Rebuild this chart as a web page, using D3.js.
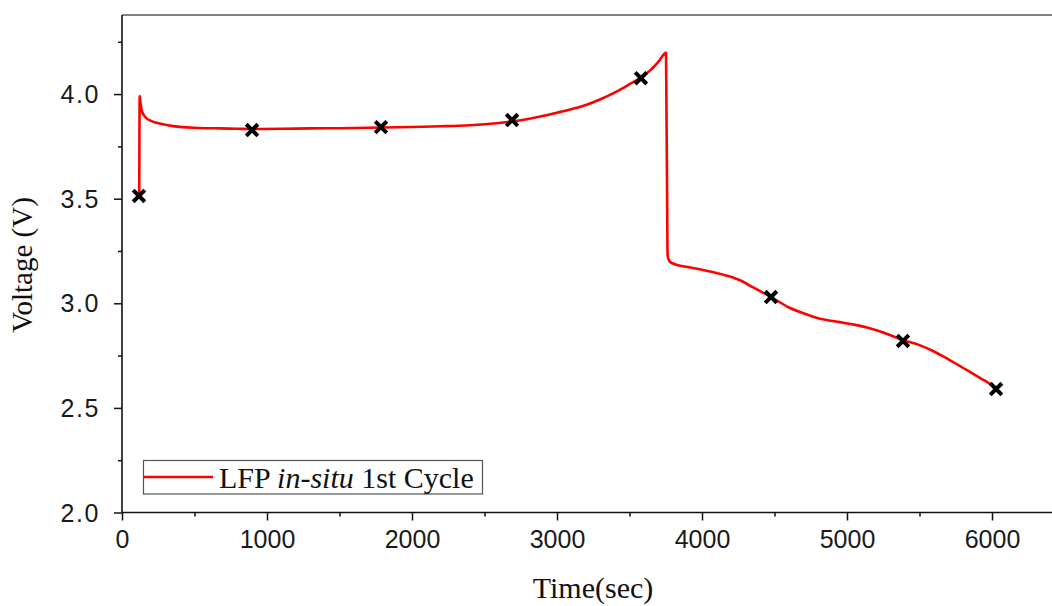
<!DOCTYPE html>
<html>
<head>
<meta charset="utf-8">
<script src="https://cdn.jsdelivr.net/npm/d3@7/dist/d3.min.js"></script>
<style>
  html, body { margin: 0; padding: 0; background: #fff; }
  svg { display: block; }
</style>
</head>
<body>
<svg id="chart" width="1052" height="606"></svg>
<script>
// ---- data ----
const timeSec = [119, 122, 128, 136, 150, 170, 200, 239, 300, 352, 420, 490, 580, 676, 800, 900,
  1100, 1300, 1500, 1800, 2000, 2200, 2400, 2600, 2700, 2800, 2900, 3000, 3100, 3200, 3300, 3400,
  3500, 3580, 3650, 3700, 3752, 3762, 3766, 3780, 3800, 3828, 3900, 4000, 4100, 4193, 4262, 4350,
  4476, 4600, 4700, 4766, 4850, 4952, 5050, 5138, 5250, 5386, 5500, 5593, 5700, 5828, 5950, 6034];
const voltage = [3.517, 3.99, 3.955, 3.923, 3.900, 3.884, 3.872, 3.863, 3.853, 3.847, 3.842, 3.839,
  3.837, 3.836, 3.834, 3.833, 3.834, 3.836, 3.837, 3.840, 3.843, 3.846, 3.851, 3.862, 3.870, 3.881,
  3.895, 3.911, 3.928, 3.948, 3.975, 4.008, 4.047, 4.080, 4.118, 4.155, 4.197, 3.254, 3.217, 3.198,
  3.190, 3.183, 3.173, 3.160, 3.145, 3.128, 3.110, 3.077, 3.030, 2.980, 2.952, 2.936, 2.921, 2.910,
  2.898, 2.884, 2.860, 2.824, 2.800, 2.772, 2.732, 2.680, 2.630, 2.594];

const markerTime = [117, 897, 1786, 2690, 3579, 4476, 5386, 6028];
const markerVoltage = [3.513, 3.828, 3.842, 3.876, 4.076, 3.030, 2.820, 2.590];

const xMajorTicks = [0, 1000, 2000, 3000, 4000, 5000, 6000];
const xMinorTicks = [500, 1500, 2500, 3500, 4500, 5500];
const yMajorTicks = [2.0, 2.5, 3.0, 3.5, 4.0];
const yMinorTicks = [2.25, 2.75, 3.25, 3.75, 4.25];

const seriesName = ["LFP ", "in-situ", " 1st Cycle"];
const xTitle = "Time(sec)";
const yTitle = "Voltage (V)";

// ---- layout ----
const svg = d3.select("#chart");
const pLeft = 122, pRight = 1050, pTop = 15, pBottom = 512.5;

const x = d3.scaleLinear().domain([0, 6400]).range([pLeft, pRight]);
const y = d3.scaleLinear().domain([2.0, 4.378]).range([pBottom, pTop]);

// top frame line (grey)
svg.append("line")
  .attr("x1", pLeft).attr("x2", 1052).attr("y1", pTop).attr("y2", pTop)
  .attr("stroke", "#5a5a5a").attr("stroke-width", 1.6);

// x axis
const xAxisMinor = svg.append("g").attr("transform", `translate(0,${pBottom})`)
  .call(d3.axisBottom(x).tickValues(xMinorTicks).tickSize(4).tickFormat(""));
xAxisMinor.select(".domain").remove();
const xAxis = svg.append("g").attr("transform", `translate(0,${pBottom})`)
  .call(d3.axisBottom(x).tickValues(xMajorTicks).tickSize(8).tickSizeOuter(0).tickPadding(6).tickFormat(d3.format("d")));
xAxis.select(".domain").attr("d", `M${pLeft},0H1052`).attr("stroke", "#111").attr("stroke-width", 1.5);
xAxis.selectAll("text")
  .attr("font-family", "'Liberation Sans', Arial, sans-serif")
  .attr("font-size", 25).attr("fill", "#1a1a1a")
  .attr("dy", null).attr("y", 35.5);

// y axis
const yAxisMinor = svg.append("g").attr("transform", `translate(${pLeft},0)`)
  .call(d3.axisLeft(y).tickValues(yMinorTicks).tickSize(4).tickFormat(""));
yAxisMinor.select(".domain").remove();
const yAxis = svg.append("g").attr("transform", `translate(${pLeft},0)`)
  .call(d3.axisLeft(y).tickValues(yMajorTicks).tickSize(8).tickSizeOuter(0).tickPadding(14).tickFormat(d3.format(".1f")));
yAxis.select(".domain").attr("d", `M0,${pTop}V${pBottom}`).attr("stroke", "#111").attr("stroke-width", 1.6);
yAxis.selectAll("text")
  .attr("font-family", "'Liberation Sans', Arial, sans-serif")
  .attr("font-size", 25).attr("fill", "#1a1a1a")
  .attr("letter-spacing", "1.6px")
  .attr("dy", "0.34em");
svg.selectAll("g.tick line").attr("stroke", "#111").attr("stroke-width", 1.5);

// curve
const line = d3.line()
  .x((d, i) => x(timeSec[i]))
  .y((d, i) => y(voltage[i]))
  .curve(d3.curveMonotoneX);
svg.append("path")
  .datum(voltage)
  .attr("d", line)
  .attr("fill", "none")
  .attr("stroke", "#ff0000")
  .attr("stroke-width", 2.6)
  .attr("stroke-linejoin", "round");

// markers (black bold x)
const ms = 5.8;
svg.append("g").selectAll("path")
  .data(markerTime)
  .join("path")
  .attr("transform", (d, i) => `translate(${x(d)},${y(markerVoltage[i])})`)
  .attr("d", `M${-ms},${-ms}L${ms},${ms}M${ms},${-ms}L${-ms},${ms}`)
  .attr("stroke", "#000")
  .attr("stroke-width", 4)
  .attr("fill", "none");

// legend
const leg = svg.append("g");
leg.append("rect")
  .attr("x", 143.5).attr("y", 460.5).attr("width", 339).attr("height", 33.5)
  .attr("fill", "#fff").attr("stroke", "#555").attr("stroke-width", 1.2);
leg.append("line")
  .attr("x1", 143.5).attr("x2", 213).attr("y1", 477).attr("y2", 477)
  .attr("stroke", "#ff0000").attr("stroke-width", 2.6);
const lt = leg.append("text")
  .attr("x", 219).attr("y", 488)
  .attr("font-family", "'Liberation Serif', 'Times New Roman', serif")
  .attr("font-size", 30).attr("fill", "#111");
lt.append("tspan").text(seriesName[0]);
lt.append("tspan").attr("font-style", "italic").text(seriesName[1]);
lt.append("tspan").text(seriesName[2]);

// axis titles
svg.append("text")
  .attr("x", 593).attr("y", 598)
  .attr("text-anchor", "middle")
  .attr("font-family", "'Liberation Serif', 'Times New Roman', serif")
  .attr("font-size", 30).attr("fill", "#111")
  .text(xTitle);
svg.append("text")
  .attr("transform", "translate(32,265) rotate(-90)")
  .attr("text-anchor", "middle")
  .attr("font-family", "'Liberation Serif', 'Times New Roman', serif")
  .attr("font-size", 29).attr("fill", "#111")
  .text(yTitle);
</script>
</body>
</html>
